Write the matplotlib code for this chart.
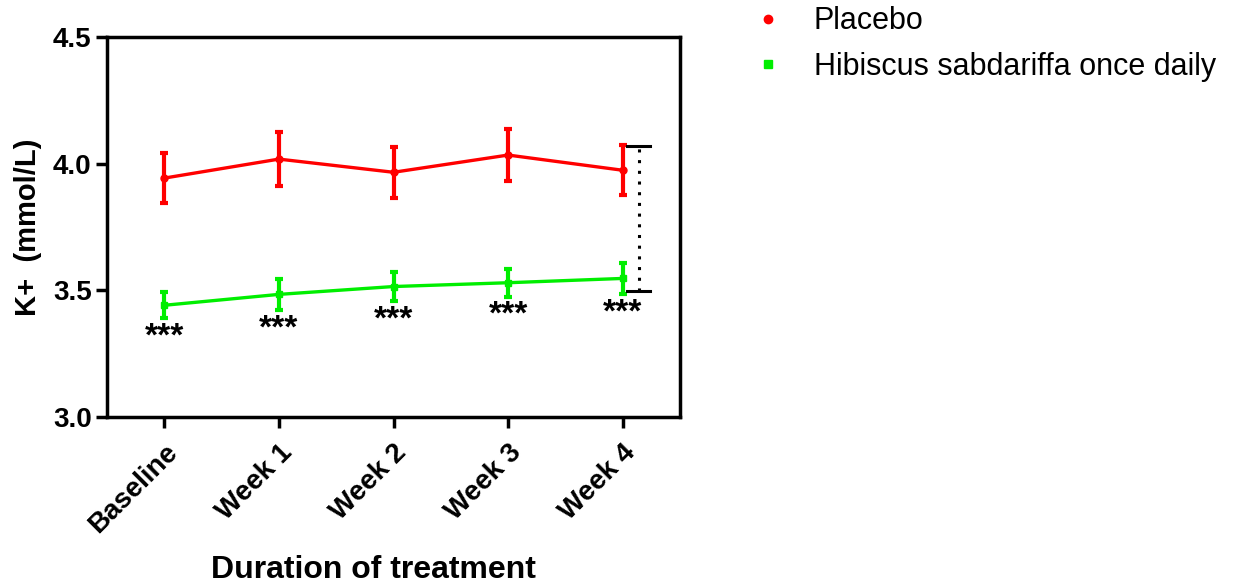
import numpy as np
import matplotlib
matplotlib.use('Agg')
import matplotlib.pyplot as plt
from matplotlib.lines import Line2D

plt.rcParams['font.family'] = ['Liberation Sans', 'DejaVu Sans']

# data
weeks = ['Baseline', 'Week 1', 'Week 2', 'Week 3', 'Week 4']
placebo_mean = [3.943, 4.018, 3.966, 4.034, 3.974]
placebo_sem = [0.098, 0.106, 0.101, 0.103, 0.099]
hibiscus_mean = [3.441, 3.484, 3.515, 3.530, 3.547]
hibiscus_sem = [0.052, 0.062, 0.058, 0.055, 0.062]
stars = ['***', '***', '***', '***', '***']
bracket = [3.497, 4.069]

x = np.arange(len(weeks))

fig = plt.figure(figsize=(12.4, 5.86), dpi=100)
ax = fig.add_axes([107/1240, 1 - 417/586, 573/1240, 380/586])

ax.errorbar(x, placebo_mean, yerr=placebo_sem, color='#ff0000', marker='o',
            markersize=5, linewidth=2.4, elinewidth=3, capsize=3, capthick=3)
ax.errorbar(x, hibiscus_mean, yerr=hibiscus_sem, color='#00ee00', marker='s',
            markersize=5, linewidth=2.4, elinewidth=3, capsize=3, capthick=3)

for xi, m, s, t in zip(x, hibiscus_mean, hibiscus_sem, stars):
    ax.text(xi, m - s - 0.012, t, ha='center', va='top', fontsize=24,
            fontweight='bold')

# significance bracket at week 4
bx = x[-1] + 0.14
ax.plot([bx, bx], bracket, color='black', linestyle=(0, (1, 2.5)), linewidth=2.2)
for yb in bracket:
    ax.plot([bx - 0.1, bx + 0.1], [yb, yb], color='black', linewidth=2.2)

ax.set_xlim(-0.5, 4.5)
ax.set_ylim(3.0, 4.5)
ax.set_yticks([3.0, 3.5, 4.0, 4.5])
ax.set_yticklabels(['3.0', '3.5', '4.0', '4.5'], fontsize=20, fontweight='bold')
ax.set_xticks(x)
ax.set_xticklabels(weeks, rotation=45, ha='right', rotation_mode='anchor',
                   fontsize=20, fontweight='bold')
ax.tick_params(axis='both', width=2.5, length=8, direction='out', pad=3)
ax.tick_params(axis='x', pad=8)
for sp in ax.spines.values():
    sp.set_linewidth(2.5)

ax.set_ylabel('K+  (mmol/L)', fontsize=21, fontweight='bold', labelpad=8)
ax.set_xlabel('Duration of treatment', fontsize=23, fontweight='bold')
ax.xaxis.set_label_coords(0.465, -0.362)

handles = [Line2D([], [], color='#ff0000', marker='o', markersize=6, linestyle='none'),
           Line2D([], [], color='#00ee00', marker='s', markersize=6, linestyle='none')]
labels = ['Placebo', 'Hibiscus sabdariffa once daily']
fig.legend(handles, labels, loc='upper left', bbox_to_anchor=(725/1240, 1.036),
           frameon=False, fontsize=22, handlelength=1.0, handletextpad=1.0,
           labelspacing=0.5)

fig.savefig('out.png', dpi=100)
